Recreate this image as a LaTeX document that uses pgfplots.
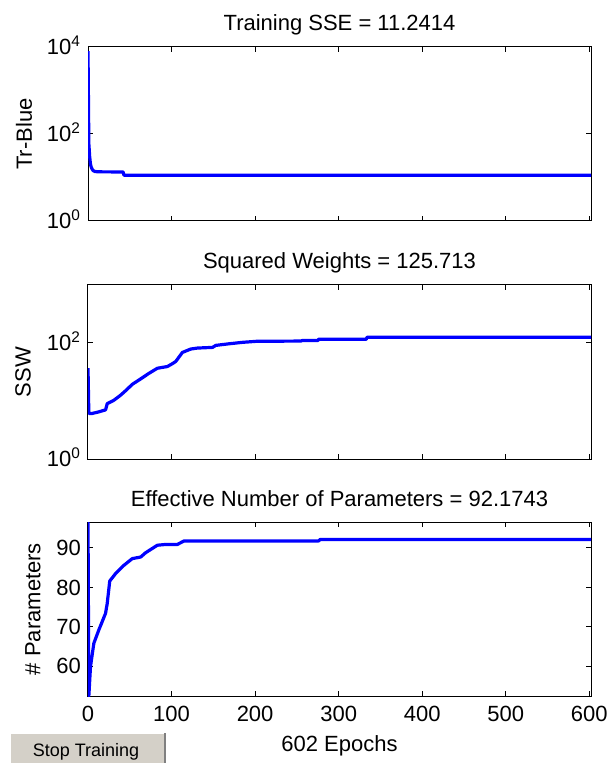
\documentclass[border=0pt]{standalone}
\usepackage{fontspec}
\setmainfont{Liberation Sans}
\usepackage{pgfplots}
\pgfplotsset{compat=1.18}
\definecolor{mblue}{RGB}{0,0,255}
\definecolor{btn}{RGB}{212,208,200}
\definecolor{btndark}{RGB}{128,128,128}
\pgfplotsset{
  mystyle/.style={
    scale only axis, width=251.5pt, height=87pt, anchor=north west,
    xmin=0, xmax=602, xtick={0,100,...,600},
    tick align=inside, major tick length=2.5pt,
    axis line style={line width=0.5pt},
    every tick/.style={line width=0.5pt, black},
    /pgf/number format/assume math mode=true,
    every axis title/.style={at={(0.5,1)}, anchor=base, yshift=8pt},
    yticklabel style={anchor=base east, yshift=-3.95pt},
    xticklabel style={anchor=base, yshift=-12.9pt},
    yminorticks=false, xminorticks=false,
  },
  mylabel/.style={every axis y label/.style={at={(axis description cs:#1,0.5)}, rotate=90, anchor=center}},
}
\begin{document}
\begin{tikzpicture}[font=\fontsize{11}{13.2}\selectfont]
\useasboundingbox (0,0) rectangle (305.5pt,-381.5pt);

% top
\begin{axis}[mystyle, at={(44pt,-23.5pt)},
  ymode=log, ymin=1, ymax=10000, ytick={1,100,10000},
  yticklabels={{10\textsuperscript{0}},{10\textsuperscript{2}},{10\textsuperscript{4}}},
  xticklabel=\empty,
  title={Training SSE = 11.2414},
  mylabel=-0.127, ylabel={Tr-Blue}]
\addplot[mblue, line width=1.6pt, line join=round] coordinates {
(0,8000) (1,60) (2,30) (3,20) (4,17) (5,15.5) (6,14.5) (8,13.8) (12,13.5)
(42,13.4) (43,11.3) (100,11.26) (602,11.2414)
};
\end{axis}

% middle
\begin{axis}[mystyle, at={(44pt,-142.5pt)},
  ymode=log, ymin=1, ymax=1000, ytick={1,100},
  yticklabels={{10\textsuperscript{0}},{10\textsuperscript{2}}},
  xticklabel=\empty,
  title={Squared Weights = 125.713},
  mylabel=-0.129, ylabel={SSW}]
\addplot[mblue, line width=1.6pt, line join=round] coordinates {
(0,36.7) (1,6.1) (5,6.1) (13,6.5) (19,6.9) (21,7.0) (23,9.0) (31,10.3)
(39,12.6) (46,15.5) (53,19.4) (61,23) (73,30) (83,36.7) (95,39.3) (101,44)
(105,48) (113,68.8) (123,78.7) (131,81.8) (149,84) (153,91) (169,97)
(185,102.7) (202,107) (255,108) (256,110) (275,110) (276,116) (333,116)
(334,125.7) (602,125.713)
};
\end{axis}

% bottom
\begin{axis}[mystyle, at={(44pt,-261pt)},
  ymin=52.4, ymax=96.6, ytick={60,70,80,90},
  title={Effective Number of Parameters = 92.1743},
  xlabel={602 Epochs},
  every axis x label/.style={at={(axis description cs:0.5,0)}, anchor=base, yshift=-27.5pt},
  mylabel=-0.1093, ylabel={\# Parameters}]
\addplot[mblue, line width=1.6pt, line join=round] coordinates {
(0,96.6) (1,52.4) (3,59.9) (7,65.8) (13,69.2) (21,73.4) (23,75.9) (26,81.6)
(33,83.5) (43,85.6) (53,87.3) (63,87.7) (69,88.8) (83,90.7) (93,90.9)
(107,90.9) (115,91.8) (276,91.8) (278,92.1743) (602,92.1743)
};
\end{axis}

% Stop Training button
\fill[btn] (5pt,-366.5pt) rectangle (82.5pt,-381.5pt);
\draw[white, line width=1pt] (5pt,-381.5pt) -- (5pt,-366.5pt) -- (82.5pt,-366.5pt);
\draw[btndark, line width=1pt] (82.5pt,-366.5pt) -- (82.5pt,-381.5pt);
\node[font=\fontsize{9}{10}\selectfont, anchor=base, inner sep=0pt] at (43pt,-378.3pt) {Stop Training};
\end{tikzpicture}
\end{document}
